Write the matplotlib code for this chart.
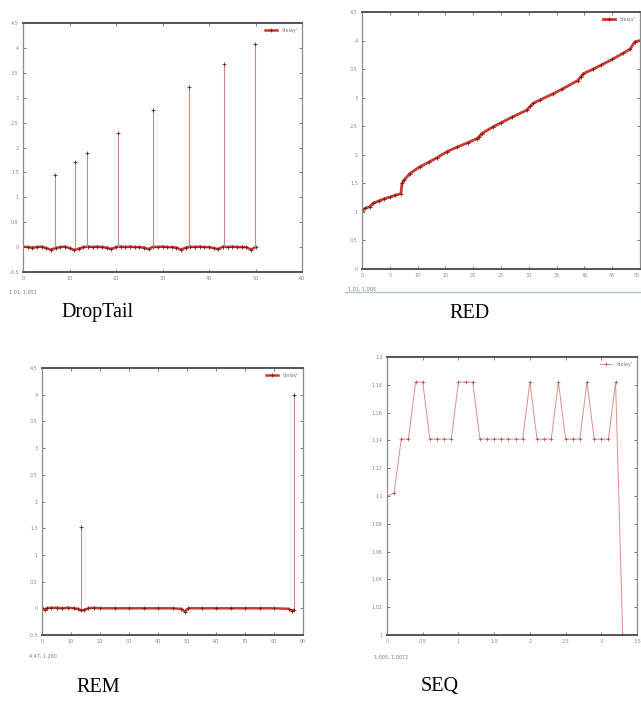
import numpy as np
import matplotlib
matplotlib.use('Agg')
import matplotlib.pyplot as plt
from matplotlib.lines import Line2D

# ---- data ----
# DropTail: noisy baseline around 0 plus spikes
drop_base_x = list(range(0, 51))
drop_base_y = [0.01, 0.0, -0.01, 0.0, 0.01, -0.02, -0.05, -0.02, 0.0, 0.01,
               -0.02, -0.06, -0.03, 0.0, 0.01, 0.0, 0.01, 0.0, -0.01, -0.04,
               0.0, 0.01, 0.0, 0.01, 0.0, 0.0, -0.01, -0.04, 0.01, 0.0,
               0.01, 0.0, 0.0, -0.01, -0.05, -0.01, 0.01, 0.0, 0.01, 0.0,
               0.0, -0.02, -0.04, 0.01, 0.0, 0.01, 0.0, 0.0, 0.0, -0.05, 0.0]
drop_spike_x = [6.95, 11.2, 13.8, 20.4, 28.0, 35.6, 43.2, 49.9]
drop_spike_y = [1.45, 1.70, 1.88, 2.29, 2.75, 3.22, 3.68, 4.07]

# RED: steadily growing curve
red_x = [0, 0.5, 1.4, 2, 3, 4, 5, 6, 7.0, 7.2, 7.5, 8.6, 10.4, 12, 13.5, 15.2,
         17, 19, 20.6, 21.0, 21.5, 23.6, 25, 27, 29.6, 30.3, 30.8, 32, 34.4,
         36, 38.8, 39.3, 39.8, 41.6, 43, 45, 47, 48.2, 49.1, 50]
red_y = [1.02, 1.06, 1.09, 1.15, 1.19, 1.23, 1.26, 1.29, 1.32, 1.50, 1.55,
         1.67, 1.79, 1.87, 1.95, 2.05, 2.13, 2.21, 2.28, 2.31, 2.37, 2.49,
         2.56, 2.66, 2.78, 2.85, 2.90, 2.96, 3.07, 3.15, 3.30, 3.36, 3.42,
         3.50, 3.57, 3.67, 3.78, 3.85, 3.98, 4.00]

# REM: flat baseline with two spikes
rem_base_x = [0, 1, 1.6, 3, 5, 7, 9, 11, 12.5, 13.5, 14.5, 16, 18, 20, 25,
              30, 35, 40, 45, 48, 49.3, 50.5, 55, 60, 65, 70, 75, 80, 85,
              86.3, 86.8]
rem_base_y = [0.01, -0.03, 0.0, 0.01, 0.01, 0.0, 0.01, 0.0, -0.01, -0.04,
              -0.03, 0.0, 0.01, 0.0, 0.0, 0.0, 0.0, 0.0, 0.0, -0.01, -0.06,
              0.0, 0.0, 0.0, 0.0, 0.0, 0.0, 0.0, -0.01, -0.05, -0.03]
rem_spike_x = [13.5, 86.8]
rem_spike_y = [1.52, 4.0]

# SEQ: plateaus and peaks
seq_x = [0.0, 0.1, 0.2, 0.3, 0.4, 0.5, 0.6, 0.7, 0.8, 0.9, 1.0, 1.1, 1.2,
         1.3, 1.4, 1.5, 1.6, 1.7, 1.8, 1.9, 2.0, 2.1, 2.2, 2.3, 2.4, 2.5,
         2.6, 2.7, 2.8, 2.9, 3.0, 3.1, 3.2, 3.3]
seq_y = [1.100, 1.102, 1.141, 1.141, 1.182, 1.182, 1.141, 1.141, 1.141,
         1.141, 1.182, 1.182, 1.182, 1.141, 1.141, 1.141, 1.141, 1.141,
         1.141, 1.141, 1.182, 1.141, 1.141, 1.141, 1.182, 1.141, 1.141,
         1.141, 1.182, 1.141, 1.141, 1.141, 1.182, 1.0]

captions = ['DropTail', 'RED', 'REM', 'SEQ']
readouts = ['1.01, 1.051', '1.01, 1.005', '4.47, 1.260', '1.005, 1.0072']

RED_LINE = '#c83a32'
MARK = '#7a1a14'
SPIKE = '#c98a86'


def style_axes(ax, xlim, ylim, xstep, ystep):
    """xgraph-like frame: grey box, inward ticks on all sides, tiny labels"""
    ax.set_xlim(xlim)
    ax.set_ylim(ylim)
    ax.set_xticks(np.arange(xlim[0], xlim[1] + xstep / 2, xstep))
    ax.set_yticks(np.arange(ylim[0], ylim[1] + ystep / 2, ystep))
    ax.set_yticklabels(['{:g}'.format(round(v, 3)) for v in ax.get_yticks()])
    ax.set_xticklabels(['{:g}'.format(round(v, 3)) for v in ax.get_xticks()])
    ax.tick_params(direction='in', length=2, width=0.6, colors='#666666',
                   labelsize=3.5, labelcolor='#888888', top=True, right=True,
                   pad=3)
    for side in ['left', 'right']:
        ax.spines[side].set_color('#8a8a8a')
        ax.spines[side].set_linewidth(0.9)
    for side in ['top', 'bottom']:
        ax.spines[side].set_color('#555555')
        ax.spines[side].set_linewidth(1.4)
    leg = ax.legend(["'delay'"], loc='upper right', fontsize=3.5,
                    frameon=False, handlelength=2.5, borderaxespad=0.6)
    for t in leg.get_texts():
        t.set_color('#777777')


fig = plt.figure(figsize=(6.41, 7.03), dpi=100)
W, H = 641.0, 703.0


def add_axes(left, right, top, bottom):
    return fig.add_axes([left / W, 1 - bottom / H, (right - left) / W,
                         (bottom - top) / H])


ax1 = add_axes(23, 302, 23, 272)
ax2 = add_axes(362, 640, 12, 269)
ax3 = add_axes(42, 303, 368, 635)
ax4 = add_axes(387, 637, 357, 635)

# DropTail
ax1.plot(drop_base_x, drop_base_y, color=RED_LINE, lw=1.8, marker='+',
         ms=2.5, mec=MARK, mew=0.6)
ax1.vlines(drop_spike_x, 0, drop_spike_y, color=SPIKE, lw=0.8)
ax1.plot(drop_spike_x, drop_spike_y, ls='none', marker='+', ms=2.5,
         mec=MARK, mew=0.6)
style_axes(ax1, (0, 60), (-0.5, 4.5), 10, 0.5)

# RED
ax2.plot(red_x, red_y, color=RED_LINE, lw=2.0, marker='+', ms=2.5,
         mec=MARK, mew=0.6)
style_axes(ax2, (0, 50), (0, 4.5), 5, 0.5)
# last x label sits at the image edge: keep it inside
ax2.get_xticklabels()[-1].set_horizontalalignment('right')

# REM
ax3.plot(rem_base_x, rem_base_y, color=RED_LINE, lw=1.8, marker='+',
         ms=2.5, mec=MARK, mew=0.6)
ax3.vlines(rem_spike_x, 0, rem_spike_y, color=SPIKE, lw=0.8)
ax3.plot(rem_spike_x, rem_spike_y, ls='none', marker='+', ms=2.5,
         mec=MARK, mew=0.6)
style_axes(ax3, (0, 90), (-0.5, 4.5), 10, 0.5)

# SEQ
ax4.plot(seq_x, seq_y, color='#dc908a', lw=0.7, marker='+', ms=2.5,
         mec='#b05048', mew=0.5)
style_axes(ax4, (0, 3.5), (1.0, 1.2), 0.5, 0.02)

# coordinate readouts under each frame
for ax, txt in zip([ax1, ax2, ax3, ax4], readouts):
    ax.text(-0.05, -0.07, txt, transform=ax.transAxes, fontsize=3.5,
            color='#777777', ha='left', va='top')

# thin bluish edge under the RED screenshot
fig.add_artist(Line2D([345 / W, 1.0], [1 - 292 / H, 1 - 292 / H],
                      color='#a9c7cf', lw=1.0))

# captions
cap_font = dict(family=['Liberation Serif', 'DejaVu Serif'], fontsize=14.5,
                color='black', ha='center', va='center')
fig.text(98 / W, 1 - 313 / H, captions[0], **cap_font)
fig.text(470 / W, 1 - 313 / H, captions[1], **cap_font)
fig.text(98 / W, 1 - 687 / H, captions[2], **cap_font)
fig.text(440 / W, 1 - 687 / H, captions[3], **cap_font)

fig.savefig('out.png', dpi=100)
